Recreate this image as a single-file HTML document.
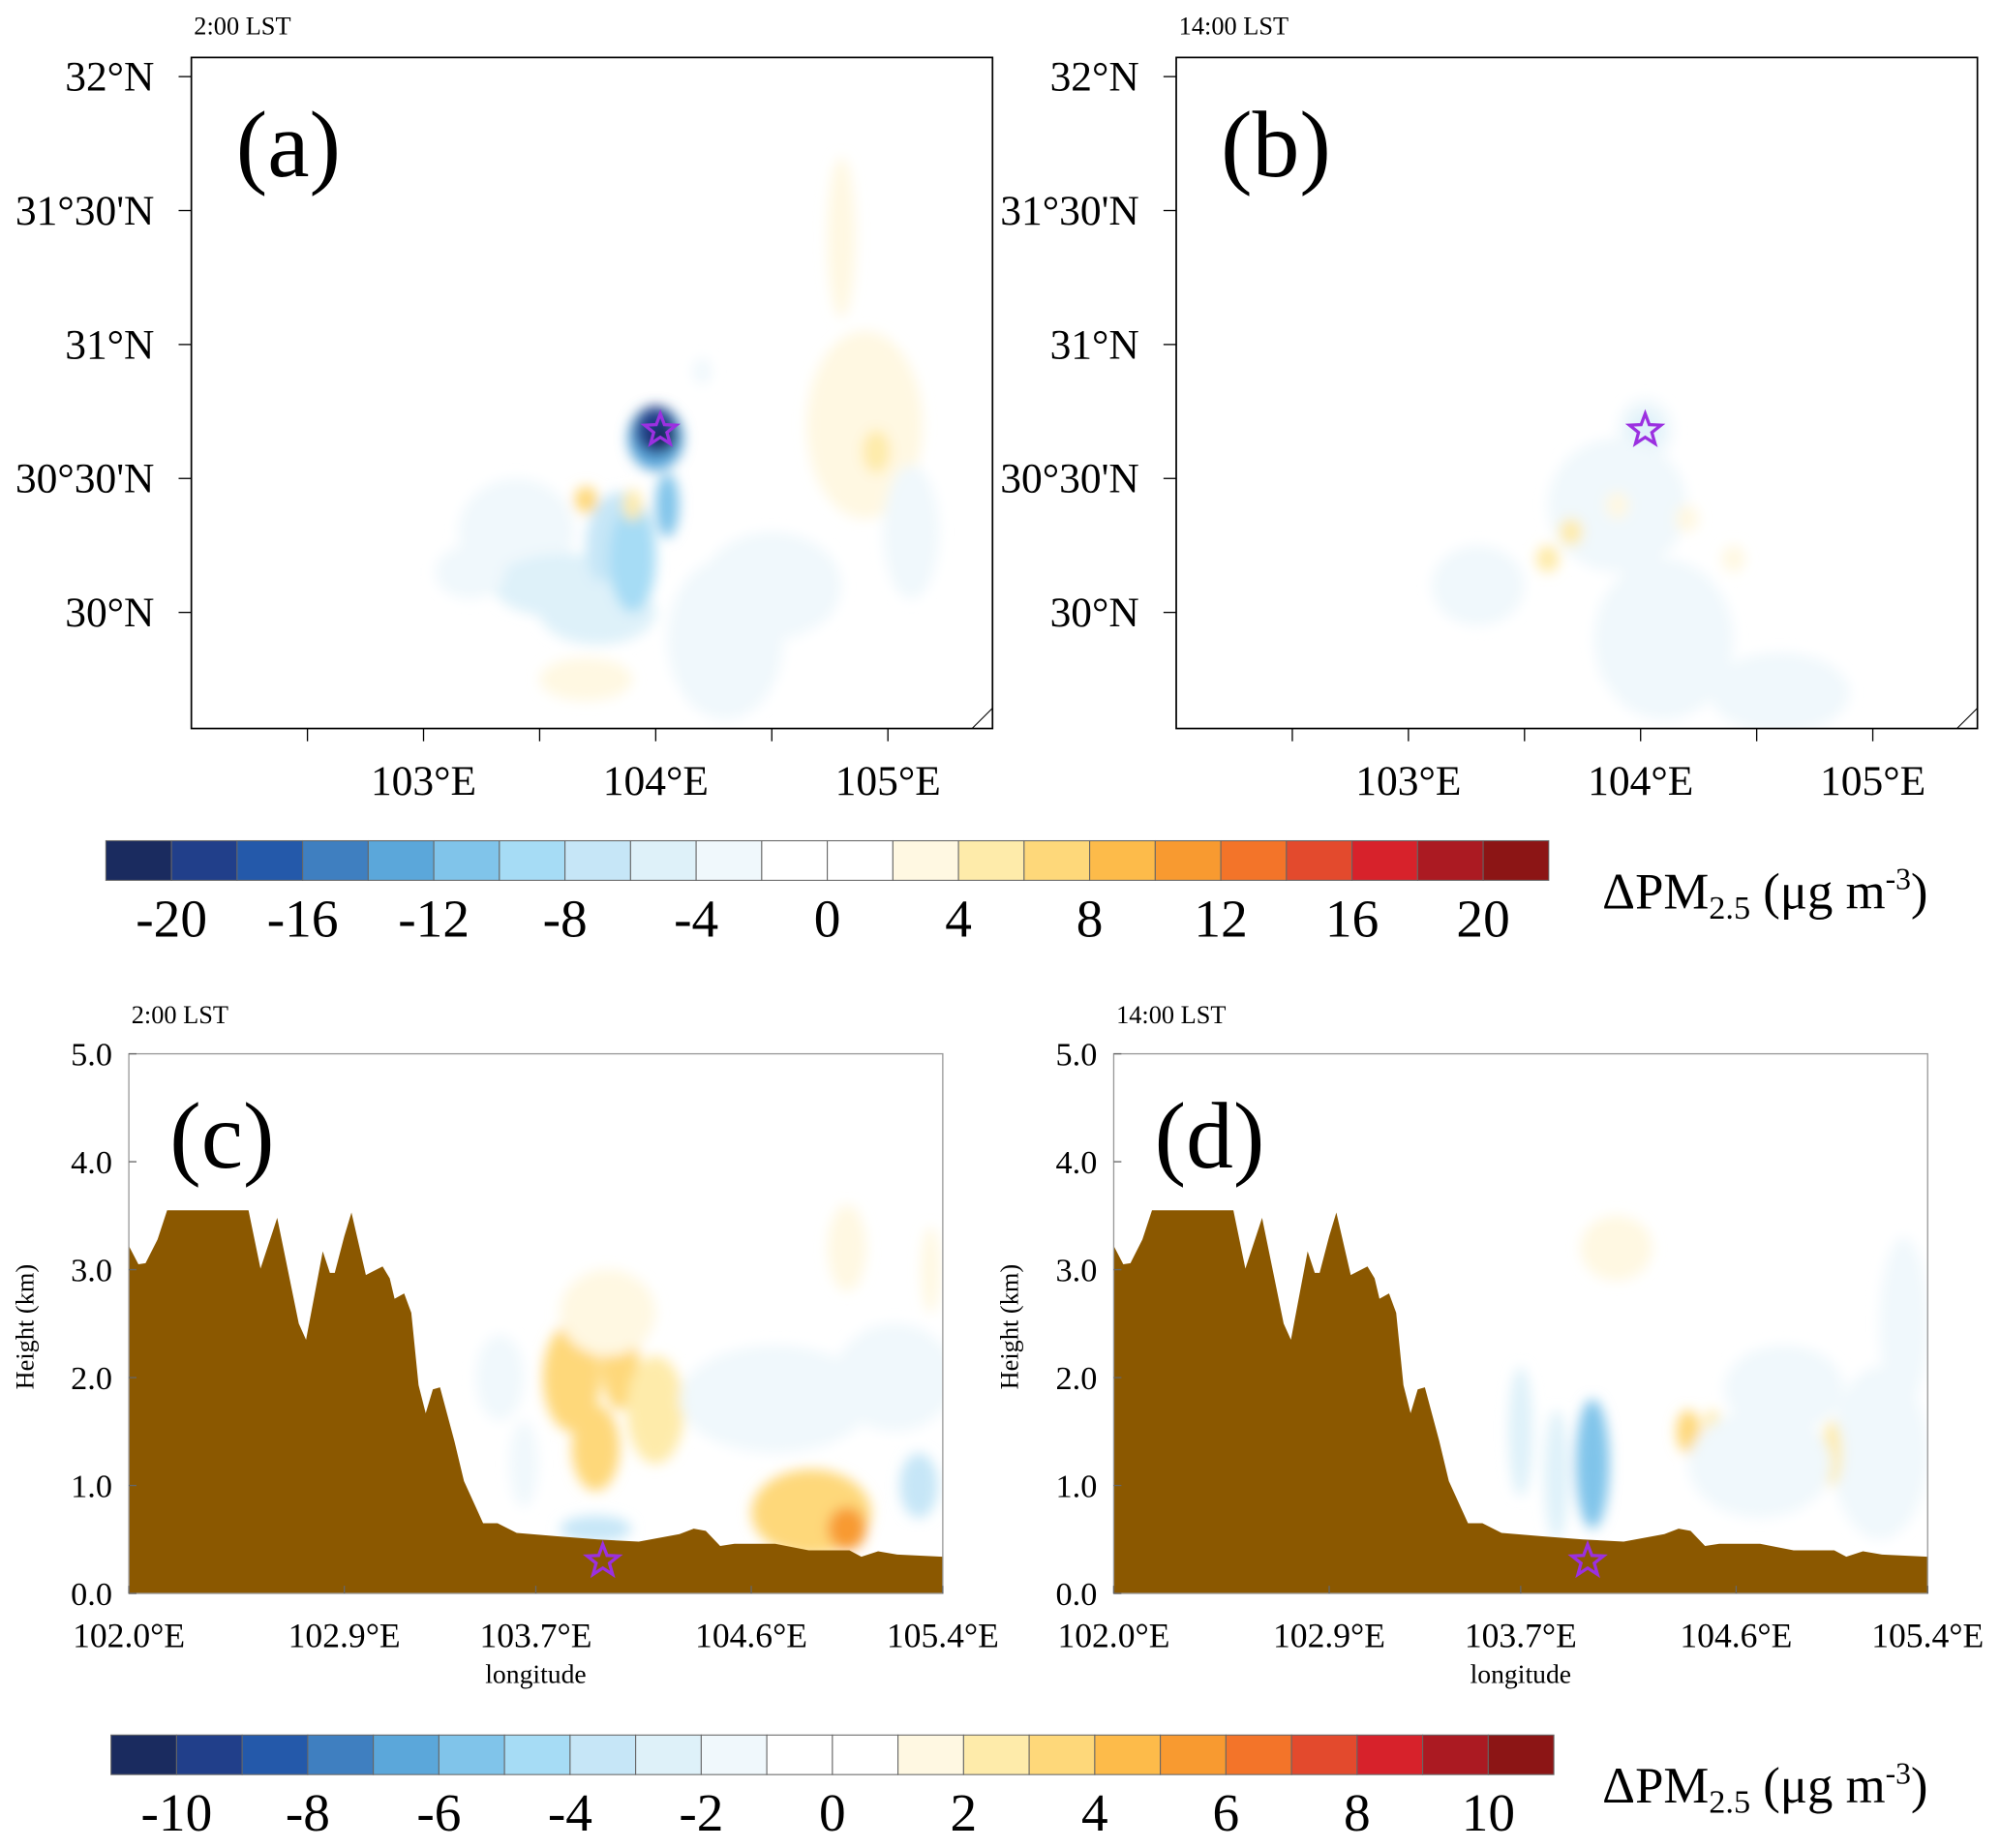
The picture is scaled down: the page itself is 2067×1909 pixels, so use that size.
<!DOCTYPE html>
<html><head><meta charset="utf-8"><style>
html,body{margin:0;padding:0;background:#fff}
svg{display:block;font-family:"Liberation Serif",serif}
</style></head><body>
<svg id="fig" width="2067" height="1909" viewBox="0 0 1568.5 1448.5" xmlns="http://www.w3.org/2000/svg">
<defs>
<filter id="blur" x="-50%" y="-50%" width="200%" height="200%"><feGaussianBlur stdDeviation="5"/></filter>
<clipPath id="clipA"><rect x="150" y="45" width="628" height="526"/></clipPath>
<clipPath id="clipB"><rect x="922" y="45" width="628" height="526"/></clipPath>
<clipPath id="clipC"><rect x="101" y="826" width="638" height="423"/></clipPath>
<clipPath id="clipD"><rect x="873" y="826" width="638" height="423"/></clipPath>
</defs>
</svg>
<script>
// ---- data ----
const cbColors=["#1a2b5f","#213f8a","#2459aa","#3f7fc0","#5ba7da","#80c4ea","#a6dcf5","#c6e6f7","#def1f9","#f0f8fc","#ffffff","#ffffff","#fff8e2","#feebaa","#fed87a","#fdbb4a","#f89a30","#f37429","#e34a2d","#d7222b","#ab1a22","#8c1515"];
const cbTicks1=[-20,-16,-12,-8,-4,0,4,8,12,16,20];
const cbTicks2=[-10,-8,-6,-4,-2,0,2,4,6,8,10];
const latTicks=[32,31.5,31,30.5,30];
const latLabels=["32°N","31°30'N","31°N","30°30'N","30°N"];
const lonTicksMap=[102.5,103,103.5,104,104.5,105];
const lonLabelsMap=["","103°E","","104°E","","105°E"];
const hTicks=[0,1,2,3,4,5];
const hLabels=["0.0","1.0","2.0","3.0","4.0","5.0"];
const lonTicksX=[102.0,102.9,103.7,104.6,105.4];
const lonLabelsX=["102.0°E","102.9°E","103.7°E","104.6°E","105.4°E"];
const terrLon=[102.0,102.04,102.07,102.12,102.16,102.50,102.55,102.62,102.71,102.74,102.81,102.84,102.86,102.90,102.93,102.99,103.06,103.09,103.11,103.15,103.18,103.21,103.24,103.27,103.30,103.36,103.40,103.48,103.54,103.62,103.79,103.96,104.13,104.30,104.36,104.41,104.47,104.53,104.58,104.70,104.84,105.01,105.06,105.13,105.21,105.40];
const terrH=[3.22,3.05,3.06,3.28,3.55,3.55,3.01,3.48,2.50,2.35,3.17,2.97,2.97,3.31,3.53,2.95,3.03,2.92,2.73,2.78,2.60,1.93,1.67,1.89,1.91,1.41,1.04,0.65,0.65,0.56,0.53,0.50,0.48,0.55,0.60,0.58,0.44,0.46,0.46,0.46,0.40,0.40,0.34,0.39,0.36,0.34];
// blobs: lon, lat, rx(deg), ry(deg), value
const blobsA_lon=[103.4,103.6,103.85,103.75,103.9,104.05,104.0,104.0,104.03,103.7,103.9,104.3,104.9,104.95,104.2,103.7,105.1,104.8,104.5,103.2];
const blobsA_lat=[30.3,30.1,30.25,30.0,30.2,30.4,30.65,30.68,30.65,30.42,30.4,29.9,30.7,30.6,30.9,29.75,30.3,31.4,30.1,30.15];
const blobsA_rx=[0.25,0.3,0.15,0.25,0.1,0.05,0.12,0.09,0.06,0.05,0.04,0.25,0.25,0.06,0.04,0.2,0.12,0.06,0.3,0.15];
const blobsA_ry=[0.2,0.12,0.2,0.12,0.2,0.12,0.12,0.09,0.05,0.05,0.06,0.3,0.35,0.08,0.05,0.08,0.25,0.3,0.2,0.1];
const blobsA_v=[-4,-5,-7,-5,-10,-12,-14,-20,-22,6,4,-3,3,5,-3,3,-3,2,-3,-3];
const blobsB_lon=[104.02,104.02,103.9,103.7,103.9,104.2,103.6,104.4,104.1,103.3,104.6];
const blobsB_lat=[30.68,30.68,30.4,30.3,30.4,30.35,30.2,30.2,29.9,30.1,29.7];
const blobsB_rx=[0.12,0.07,0.3,0.05,0.05,0.05,0.05,0.05,0.3,0.2,0.3];
const blobsB_ry=[0.12,0.07,0.25,0.05,0.05,0.05,0.05,0.05,0.3,0.15,0.15];
const blobsB_v=[-4,-6,-3,4,3,3,4,3,-3,-3,-3];
const blobsC_lon=[103.85,104.05,103.95,104.2,104.85,105.0,103.95,103.55,105.3,104.7,103.65,104.0,105.0,105.35,105.2];
const blobsC_lat=[2.0,2.2,1.35,1.7,0.75,0.6,0.6,2.0,1.0,1.8,1.2,2.6,3.2,3.0,2.0];
const blobsC_rx=[0.12,0.08,0.1,0.12,0.25,0.08,0.15,0.1,0.08,0.4,0.06,0.2,0.08,0.04,0.25];
const blobsC_ry=[0.5,0.5,0.4,0.5,0.4,0.2,0.12,0.4,0.3,0.5,0.4,0.4,0.4,0.4,0.5];
const blobsC_v=[3,3,3,2,3,5,-4,-2,-4,-2,-2,1,1,1,-2];
const blobsD_lon=[104.0,103.85,104.4,105.2,104.8,103.7,104.5,105.3,104.1,105.0,104.7];
const blobsD_lat=[1.2,1.1,1.5,1.3,1.9,1.5,1.5,2.5,3.2,1.3,1.2];
const blobsD_rx=[0.07,0.05,0.05,0.2,0.25,0.05,0.04,0.1,0.15,0.04,0.3];
const blobsD_ry=[0.6,0.6,0.2,0.8,0.4,0.6,0.2,0.8,0.3,0.3,0.5];
const blobsD_v=[-6,-3,3,-2,-2,-3,2,-2,1,2,-2];

const NS="http://www.w3.org/2000/svg";
const svg=document.getElementById('fig');
function mk(tag,attrs,parent,text){const e=document.createElementNS(NS,tag);for(const k in attrs)e.setAttribute(k,attrs[k]);if(text!==undefined)e.textContent=text;(parent||svg).appendChild(e);return e;}
function colorFor(v,scale){let i=Math.floor(v/scale)+11;i=Math.max(0,Math.min(21,i));return cbColors[i];}

function starPts(cx,cy,r){let p=[];for(let i=0;i<10;i++){const a=-Math.PI/2+i*Math.PI/5;const rr=i%2?r*0.42:r;p.push((cx+rr*Math.cos(a)).toFixed(1)+','+(cy+rr*Math.sin(a)).toFixed(1));}return p.join(' ');}

function mapPanel(ox,label,time,lon,lat,rx,ry,val,clip,nm){
  const L=ox,T=45,W=628,H=526;
  const xs=d=>L+(d-102.0)*182; const ys=d=>60+(32-d)*210;
  const g=mk('g',{}, svg);  
  const tl=mk('text',{x:L+2,y:27,'font-size':20},g,time);  
  const bg=mk('g',{'clip-path':`url(#${clip})`},g);
  const fg=mk('g',{filter:'url(#blur)'},bg);
  for(let i=0;i<lon.length;i++){
    const e=mk('ellipse',{cx:xs(lon[i]),cy:ys(lat[i]),rx:rx[i]*182,ry:ry[i]*210,fill:colorFor(val[i],2)},fg);
     
  }
  const fr=mk('rect',{x:L,y:T,width:W,height:H,fill:'none',stroke:'#000','stroke-width':1.3},g);  
  mk('line',{x1:L+W-16,y1:T+H,x2:L+W,y2:T+H-16,stroke:'#000','stroke-width':0.8},g);
  latTicks.forEach((t,i)=>{const y=ys(t);mk('line',{x1:L-10,y1:y,x2:L,y2:y,stroke:'#000'},g);
    const tx=mk('text',{x:L-29,y:y+11,'font-size':33,'text-anchor':'end'},g,latLabels[i]);  });
  lonTicksMap.forEach((t,i)=>{const x=xs(t);mk('line',{x1:x,y1:T+H,x2:x,y2:T+H+10,stroke:'#000'},g);
    if(lonLabelsMap[i]){const tx=mk('text',{x:x,y:623,'font-size':33,'text-anchor':'middle'},g,lonLabelsMap[i]);  }});
  const pl=mk('text',{x:L+35,y:138,'font-size':74},g,label);  
  const st=mk('polygon',{points:starPts(xs(104.02),ys(30.68),13),fill:'none',stroke:'#9b30e0','stroke-width':2.5},g);  
}

function crossPanel(ox,label,time,lon,hh,rx,ry,val,clip,nm){
  const L=ox,T=826,W=638,H=423;
  const xs=d=>L+(d-102.0)*W/3.4; const ys=h=>T+H-h*H/5;
  const g=mk('g',{},svg);  
  const tl=mk('text',{x:L+2,y:802,'font-size':20},g,time);  
  const bg=mk('g',{'clip-path':`url(#${clip})`},g);
  const fg=mk('g',{filter:'url(#blur)'},bg);
  for(let i=0;i<lon.length;i++){
    const e=mk('ellipse',{cx:xs(lon[i]),cy:ys(hh[i]),rx:rx[i]*W/3.4,ry:ry[i]*H/5,fill:colorFor(val[i],1)},fg);
     
  }
  let pts=[xs(102.0)+','+ys(0)];
  for(let i=0;i<terrLon.length;i++)pts.push(xs(terrLon[i]).toFixed(1)+','+ys(terrH[i]).toFixed(1));
  pts.push(xs(105.4)+','+ys(0));
  const tr=mk('polygon',{points:pts.join(' '),fill:'#8b5800'},bg);  
  const fr=mk('rect',{x:L,y:T,width:W,height:H,fill:'none',stroke:'#999','stroke-width':1},g);  
  hTicks.forEach((t,i)=>{const y=ys(t);mk('line',{x1:L,y1:y,x2:L+6,y2:y,stroke:'#666'},g);
    const tx=mk('text',{x:L-13,y:y+9,'font-size':26,'text-anchor':'end'},g,hLabels[i]);  });
  lonTicksX.forEach((t,i)=>{const x=xs(t);mk('line',{x1:x,y1:T+H,x2:x,y2:T+H-6,stroke:'#666'},g);
    const tx=mk('text',{x:x,y:1291,'font-size':27,'text-anchor':'middle'},g,lonLabelsX[i]);  });
  const xl=mk('text',{x:xs(103.7),y:1319,'font-size':21,'text-anchor':'middle'},g,'longitude');  
  const yl=mk('text',{x:L-75,y:1040,'font-size':20,'text-anchor':'middle',transform:`rotate(-90 ${L-75} 1040)`},g,'Height (km)');  
  const pl=mk('text',{x:L+32,y:915,'font-size':74},g,label);  
  const st=mk('polygon',{points:starPts(xs(103.98),ys(0.3),13),fill:'none',stroke:'#9b30e0','stroke-width':2.5},g);  
}

function colorbar(L,T,W,H,ticks,ly,ty,nm){
  const g=mk('g',{},svg);  
  const bw=W/22;
  cbColors.forEach((c,i)=>{const r=mk('rect',{x:L+i*bw,y:T,width:bw,height:H,fill:c,stroke:'#666','stroke-width':0.8},g);  });
  ticks.forEach((t,i)=>{const tx=mk('text',{x:L+(1+2*i)*bw,y:ly,'font-size':42,'text-anchor':'middle'},g,String(t));  });
  const tt=mk('text',{x:1256,y:ty,'font-size':40},g);  
  mk('tspan',{},tt,'ΔPM');mk('tspan',{'font-size':26,dy:8},tt,'2.5');mk('tspan',{dy:-8},tt,' (μg m');mk('tspan',{'font-size':24,dy:-15},tt,'-3');mk('tspan',{dy:15},tt,')');
}

mapPanel(150,'(a)','2:00  LST',blobsA_lon,blobsA_lat,blobsA_rx,blobsA_ry,blobsA_v,'clipA','panel-a');
mapPanel(922,'(b)','14:00  LST',blobsB_lon,blobsB_lat,blobsB_rx,blobsB_ry,blobsB_v,'clipB','panel-b');
colorbar(83,659,1131,31,cbTicks1,734,712,'colorbar-top');
crossPanel(101,'(c)','2:00  LST',blobsC_lon,blobsC_lat,blobsC_rx,blobsC_ry,blobsC_v,'clipC','panel-c');
crossPanel(873,'(d)','14:00  LST',blobsD_lon,blobsD_lat,blobsD_rx,blobsD_ry,blobsD_v,'clipD','panel-d');
colorbar(87,1360,1131,31,cbTicks2,1435,1413,'colorbar-bottom');
</script>
</body></html>
